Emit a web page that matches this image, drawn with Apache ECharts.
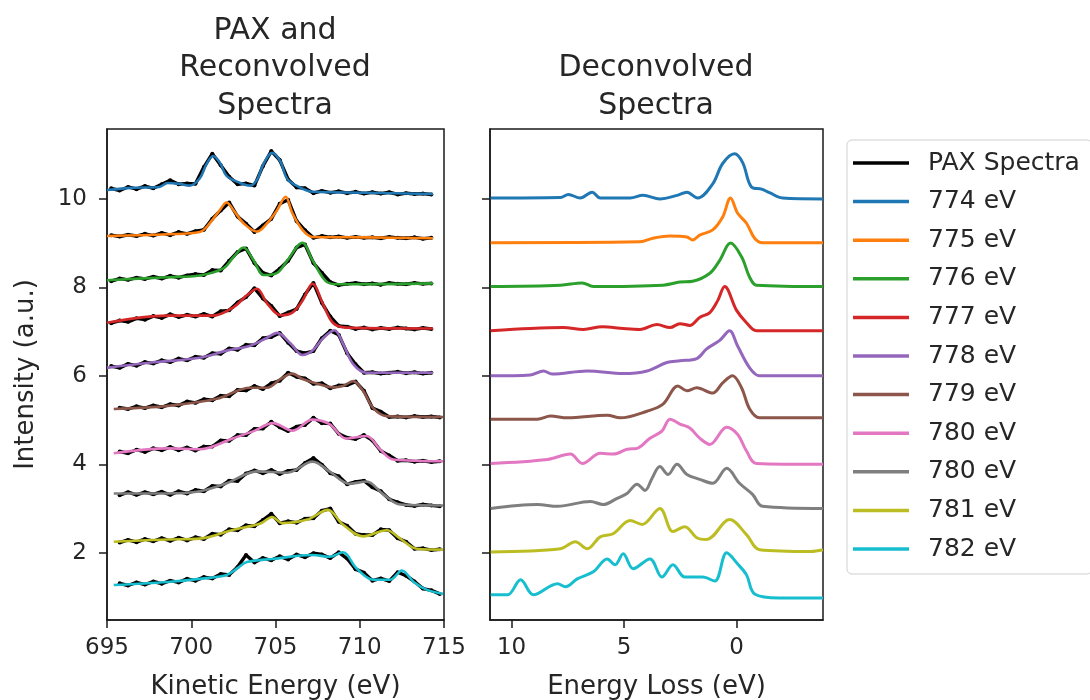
<!DOCTYPE html>
<html>
<head>
<meta charset="utf-8">
<title>PAX and Deconvolved Spectra</title>
<script src="https://cdn.jsdelivr.net/npm/echarts@6/dist/echarts.min.js"></script>
<style>
  html, body { margin: 0; padding: 0; background: #fff; }
  #chart { width: 1090px; height: 700px; }
</style>
</head>
<body>
<div id="chart"></div>
<script>
// ---- Data -----------------------------------------------------------------
const photonLabels = ['774 eV', '775 eV', '776 eV', '777 eV', '778 eV',
                      '779 eV', '780 eV', '780 eV', '781 eV', '782 eV'];
const paxLabel = 'PAX Spectra';

const kineticTicks = [695, 700, 705, 710, 715];
const lossTicks = [10, 5, 0];
const intensityTicks = [2, 4, 6, 8, 10];

// Measured PAX spectra (offset stacks), sampled on a common kinetic-energy grid
const paxEnergy = [695.25, 695.75, 696.25, 696.75, 697.25, 697.75, 698.25, 698.75, 699.25, 699.75,
                   700.25, 700.75, 701.25, 701.75, 702.25, 702.75, 703.25, 703.75, 704.25, 704.75,
                   705.25, 705.75, 706.25, 706.75, 707.25, 707.75, 708.25, 708.75, 709.25, 709.75,
                   710.25, 710.75, 711.25, 711.75, 712.25, 712.75, 713.25, 713.75, 714.25, 714.75];
const pax774 = [10.24, 10.19, 10.27, 10.22, 10.29, 10.24, 10.33, 10.42, 10.33, 10.35,
                10.34, 10.72, 11.02, 10.76, 10.50, 10.33, 10.35, 10.30, 10.74, 11.08,
                10.88, 10.44, 10.26, 10.24, 10.13, 10.18, 10.14, 10.17, 10.13, 10.16,
                10.12, 10.15, 10.12, 10.15, 10.10, 10.13, 10.11, 10.12, 10.10, null];
const pax775 = [9.18, 9.15, 9.19, 9.16, 9.21, 9.17, 9.23, 9.18, 9.25, 9.21,
                9.27, 9.30, 9.55, 9.74, 9.92, 9.60, 9.44, 9.25, 9.40, 9.55,
                9.89, 9.98, 9.50, 9.29, 9.12, 9.16, 9.13, 9.15, 9.12, 9.14,
                9.12, 9.13, 9.11, 9.14, 9.12, 9.11, 9.13, 9.10, 9.12, null];
const pax776 = [8.14, 8.20, 8.17, 8.22, 8.19, 8.24, 8.20, 8.26, 8.22, 8.27,
                8.30, 8.28, 8.39, 8.38, 8.60, 8.80, 8.88, 8.55, 8.33, 8.27,
                8.42, 8.60, 8.90, 8.97, 8.55, 8.33, 8.12, 8.05, 8.08, 8.10,
                8.07, 8.09, 8.06, 8.10, 8.08, 8.07, 8.10, 8.08, 8.09, null];
const pax777 = [7.19, 7.25, 7.22, 7.30, 7.27, 7.35, 7.31, 7.39, 7.33, 7.38,
                7.34, 7.40, 7.34, 7.46, 7.48, 7.66, 7.78, 7.98, 7.75, 7.58,
                7.35, 7.43, 7.51, 7.84, 8.10, 7.65, 7.34, 7.13, 7.11, 7.06,
                7.09, 7.05, 7.08, 7.06, 7.09, 7.07, 7.05, 7.08, 7.06, null];
const pax778 = [6.22, 6.18, 6.27, 6.23, 6.31, 6.28, 6.35, 6.31, 6.39, 6.35,
                6.43, 6.41, 6.51, 6.50, 6.62, 6.59, 6.70, 6.69, 6.85, 6.88,
                6.97, 6.75, 6.56, 6.51, 6.56, 6.85, 7.02, 6.93, 6.51, 6.26,
                6.07, 6.08, 6.05, 6.07, 6.09, 6.06, 6.08, 6.05, 6.07, null];
const pax779 = [null, 5.28, 5.25, 5.31, 5.27, 5.33, 5.29, 5.36, 5.33, 5.42,
                5.39, 5.47, 5.45, 5.55, 5.54, 5.68, 5.67, 5.77, 5.70, 5.83,
                5.89, 6.07, 5.98, 5.94, 5.82, 5.83, 5.72, 5.78, 5.79, 5.87,
                5.66, 5.27, 5.19, 5.07, 5.08, 5.06, 5.09, 5.07, 5.08, 5.06];
const pax780a = [null, 4.29, 4.25, 4.33, 4.28, 4.36, 4.32, 4.39, 4.32, 4.38,
                 4.31, 4.40, 4.40, 4.54, 4.53, 4.66, 4.66, 4.80, 4.81, 4.96,
                 4.84, 4.75, 4.85, 4.89, 5.05, 4.93, 4.92, 4.69, 4.60, 4.57,
                 4.66, 4.54, 4.30, 4.20, 4.08, 4.09, 4.06, 4.08, 4.05, 4.07];
const pax780b = [null, 3.30, 3.37, 3.31, 3.37, 3.32, 3.38, 3.31, 3.39, 3.34,
                 3.42, 3.39, 3.51, 3.50, 3.63, 3.62, 3.79, 3.86, 3.80, 3.87,
                 3.78, 3.85, 3.87, 4.03, 4.14, 3.99, 3.80, 3.73, 3.55, 3.60,
                 3.63, 3.48, 3.39, 3.21, 3.14, 3.08, 3.06, 3.09, 3.07, 3.05];
const pax781 = [null, 2.23, 2.29, 2.24, 2.31, 2.26, 2.33, 2.27, 2.34, 2.28,
                2.35, 2.31, 2.43, 2.41, 2.53, 2.51, 2.62, 2.60, 2.74, 2.88,
                2.67, 2.71, 2.68, 2.77, 2.78, 2.95, 3.00, 2.70, 2.61, 2.43,
                2.40, 2.40, 2.53, 2.51, 2.33, 2.25, 2.09, 2.10, 2.06, 2.08];
const pax782 = [null, 1.31, 1.26, 1.33, 1.28, 1.35, 1.30, 1.37, 1.33, 1.41,
                1.37, 1.45, 1.42, 1.52, 1.50, 1.68, 1.95, 1.78, 1.88, 1.83,
                1.92, 1.85, 1.96, 1.90, 1.99, 1.96, 1.88, 2.01, 1.87, 1.63,
                1.55, 1.37, 1.42, 1.36, 1.56, 1.48, 1.35, 1.19, 1.15, 1.07];

// Reconvolved spectra: [kinetic energy (eV), offset intensity]
const rec774 = [[695.0, 10.20], [696.5, 10.25], [698.1, 10.27], [698.6, 10.36], [699.3, 10.34], [699.9, 10.30],
                [700.5, 10.46], [700.9, 10.78], [701.3, 10.97], [701.7, 10.82], [702.1, 10.52], [702.9, 10.36],
                [703.5, 10.30], [703.9, 10.43], [704.3, 10.80], [704.8, 11.04], [705.3, 10.84], [705.7, 10.45],
                [706.5, 10.25], [707.2, 10.16], [710.4, 10.14], [714.35, 10.11]];
const rec775 = [[695.0, 9.16], [698.6, 9.20], [700.5, 9.25], [701.1, 9.45], [701.7, 9.75], [702.1, 9.92],
                [702.5, 9.75], [703.1, 9.45], [703.9, 9.26], [704.5, 9.45], [705.1, 9.75], [705.6, 10.05],
                [706.0, 9.68], [706.6, 9.30], [707.2, 9.14], [710.4, 9.13], [714.35, 9.11]];
const rec776 = [[695.0, 8.16], [698.6, 8.23], [700.5, 8.27], [701.9, 8.43], [702.5, 8.68], [703.1, 8.90],
                [703.7, 8.61], [704.3, 8.28], [705.1, 8.33], [705.7, 8.61], [706.6, 9.01], [707.2, 8.61],
                [708.1, 8.11], [708.8, 8.07], [714.35, 8.09]];
const rec777 = [[695.0, 7.20], [698.6, 7.36], [701.3, 7.36], [702.5, 7.55], [703.3, 7.82], [703.9, 7.97],
                [704.5, 7.64], [705.3, 7.37], [706.0, 7.43], [706.6, 7.70], [707.2, 8.08], [707.8, 7.64],
                [708.4, 7.20], [709.2, 7.09], [714.35, 7.07]];
const rec778 = [[695.0, 6.18], [697.6, 6.30], [700.5, 6.41], [702.1, 6.57], [703.5, 6.68], [704.5, 6.86],
                [705.1, 6.97], [705.9, 6.73], [706.6, 6.47], [707.2, 6.57], [707.8, 6.84], [708.5, 7.03],
                [709.0, 6.73], [709.6, 6.27], [710.4, 6.07], [714.35, 6.07]];
const rec779 = [[695.4, 5.25], [698.6, 5.32], [701.5, 5.48], [703.5, 5.73], [704.5, 5.73], [705.3, 5.93],
                [706.0, 6.05], [706.6, 5.93], [707.5, 5.82], [708.4, 5.74], [709.0, 5.77], [709.6, 5.88],
                [710.2, 5.66], [710.8, 5.27], [711.6, 5.09], [714.94, 5.07]];
const rec780a = [[695.4, 4.25], [698.6, 4.36], [700.5, 4.34], [702.5, 4.59], [703.7, 4.75], [704.85, 4.93],
                 [706.0, 4.76], [707.2, 5.01], [708.2, 4.91], [709.2, 4.58], [710.4, 4.64], [711.2, 4.34],
                 [712.0, 4.11], [714.94, 4.07]];
const rec780b = [[695.4, 3.34], [698.6, 3.34], [700.5, 3.39], [702.1, 3.57], [703.9, 3.84], [705.7, 3.81],
                 [707.2, 4.06], [708.2, 3.84], [709.4, 3.56], [710.4, 3.61], [711.4, 3.32], [712.4, 3.09],
                 [714.94, 3.07]];
const rec781 = [[695.4, 2.25], [698.6, 2.30], [700.5, 2.32], [702.5, 2.52], [704.1, 2.66], [704.8, 2.81],
                [705.4, 2.67], [706.9, 2.75], [708.1, 2.97], [709.0, 2.64], [710.2, 2.37], [711.6, 2.51],
                [712.4, 2.32], [713.4, 2.09], [714.94, 2.07]];
const rec782 = [[695.4, 1.27], [698.6, 1.34], [700.5, 1.41], [702.1, 1.50], [702.7, 1.64], [703.3, 1.79],
                [704.85, 1.86], [707.2, 1.95], [708.2, 1.91], [709.0, 2.01], [709.8, 1.65], [710.8, 1.39],
                [711.8, 1.39], [712.5, 1.60], [713.2, 1.34], [714.0, 1.16], [714.94, 1.07]];

// Deconvolved spectra: [energy loss (eV), offset intensity]
const dec774 = [[10.93, 10.02], [7.83, 10.03], [7.48, 10.10], [6.95, 10.02], [6.42, 10.15], [6.06, 10.02],
                [4.73, 10.02], [4.16, 10.08], [3.41, 10.00], [2.65, 10.08], [2.21, 10.15], [1.73, 10.02],
                [1.06, 10.34], [0.62, 10.80], [0.09, 11.02], [-0.27, 10.82], [-0.66, 10.27], [-1.11, 10.22],
                [-1.46, 10.14], [-2.04, 10.02], [-3.84, 10.00]];
const dec775 = [[10.93, 9.01], [4.29, 9.03], [3.72, 9.11], [2.96, 9.16], [2.21, 9.14], [1.95, 9.07],
                [1.64, 9.18], [1.06, 9.30], [0.62, 9.59], [0.27, 10.02], [-0.04, 9.68], [-0.44, 9.45],
                [-0.80, 9.11], [-1.15, 9.01], [-3.84, 9.01]];
const dec776 = [[10.93, 8.02], [7.83, 8.05], [6.86, 8.10], [6.37, 8.02], [3.27, 8.05], [2.52, 8.12],
                [1.95, 8.14], [1.19, 8.32], [0.75, 8.61], [0.27, 9.00], [-0.22, 8.69], [-0.58, 8.23],
                [-0.88, 8.05], [-3.84, 8.02]];
const dec777 = [[10.93, 7.02], [9.16, 7.07], [7.70, 7.09], [6.81, 7.05], [5.97, 7.11], [5.04, 7.07],
                [4.29, 7.05], [3.54, 7.16], [2.96, 7.09], [2.52, 7.18], [2.08, 7.14], [1.64, 7.32],
                [1.19, 7.43], [0.84, 7.70], [0.53, 8.02], [0.00, 7.48], [-0.44, 7.20], [-0.88, 7.02],
                [-3.84, 7.02]];
const dec778 = [[10.93, 6.00], [9.16, 6.02], [8.58, 6.11], [8.20, 6.04], [6.64, 6.11], [5.04, 6.05],
                [3.98, 6.11], [3.10, 6.30], [2.52, 6.34], [1.77, 6.39], [1.33, 6.61], [0.75, 6.80],
                [0.31, 7.02], [-0.04, 6.68], [-0.58, 6.18], [-1.02, 6.00], [-3.84, 6.00]];
const dec779 = [[10.93, 5.02], [8.85, 5.02], [8.27, 5.09], [7.52, 5.05], [5.75, 5.11], [5.18, 5.05],
                [3.98, 5.20], [3.27, 5.36], [2.61, 5.77], [2.21, 5.66], [1.77, 5.73], [1.06, 5.61],
                [0.62, 5.84], [0.18, 6.00], [-0.22, 5.73], [-0.58, 5.25], [-1.02, 5.05], [-3.84, 5.05]];
const dec780a = [[10.93, 4.02], [8.41, 4.11], [7.39, 4.23], [6.86, 4.02], [6.06, 4.25], [5.47, 4.23],
                 [4.87, 4.34], [4.42, 4.36], [3.85, 4.59], [3.32, 4.75], [2.96, 5.02], [2.52, 4.91],
                 [2.08, 4.82], [1.64, 4.59], [1.19, 4.45], [0.44, 4.84], [-0.04, 4.68], [-0.44, 4.30],
                 [-0.88, 4.02], [-3.84, 4.00]];
const dec780b = [[10.93, 3.00], [8.85, 3.09], [7.96, 3.05], [6.50, 3.16], [5.93, 3.09], [5.31, 3.23],
                 [4.87, 3.34], [4.42, 3.55], [4.07, 3.41], [3.76, 3.68], [3.41, 3.95], [3.05, 3.77],
                 [2.65, 4.00], [2.21, 3.77], [1.64, 3.66], [1.06, 3.57], [0.44, 3.91], [-0.13, 3.57],
                 [-0.71, 3.32], [-1.15, 3.05], [-3.84, 3.00]];
const dec781 = [[10.93, 2.02], [7.83, 2.09], [7.17, 2.25], [6.64, 2.09], [6.06, 2.36], [5.49, 2.43],
                [4.73, 2.73], [4.20, 2.64], [3.41, 3.00], [2.83, 2.48], [2.30, 2.59], [1.77, 2.34],
                [1.33, 2.30], [0.31, 2.75], [-0.44, 2.41], [-1.02, 2.07], [-3.30, 2.03], [-3.84, 2.07]];
const dec782 = [[10.93, 1.05], [10.18, 1.05], [9.60, 1.39], [9.03, 1.05], [7.96, 1.30], [7.61, 1.23],
                [7.08, 1.41], [6.37, 1.57], [5.75, 1.86], [5.40, 1.73], [5.04, 1.98], [4.60, 1.64],
                [3.85, 1.86], [3.32, 1.45], [2.83, 1.73], [2.30, 1.45], [1.50, 1.45], [0.97, 1.36],
                [0.44, 2.00], [-0.04, 1.75], [-0.44, 1.50], [-0.80, 1.07], [-1.90, 0.98], [-3.84, 0.98]];

const paxSpectra = [pax774, pax775, pax776, pax777, pax778, pax779, pax780a, pax780b, pax781, pax782];
const reconvolved = [rec774, rec775, rec776, rec777, rec778, rec779, rec780a, rec780b, rec781, rec782];
const deconvolved = [dec774, dec775, dec776, dec777, dec778, dec779, dec780a, dec780b, dec781, dec782];

// ---- Styling --------------------------------------------------------------
const palette = ['#1f77b4', '#ff7f0e', '#2ca02c', '#d62728', '#9467bd',
                 '#8c564b', '#e377c2', '#7f7f7f', '#bcbd22', '#17becf'];
const FONT = 'DejaVu Sans';
const TEXT = '#262626';
const AXIS = '#1a1a1a';

const chart = echarts.init(document.getElementById('chart'), null, { renderer: 'canvas' });

const series = [];
// Measured spectra drawn first so that the fits sit on top of them
paxSpectra.forEach(vals => {
  series.push({
    name: 'pax', type: 'line', xAxisIndex: 0, yAxisIndex: 0,
    data: paxEnergy.map((x, j) => [x, vals[j]]).filter(p => p[1] !== null),
    showSymbol: true, symbol: 'circle', symbolSize: 4,
    itemStyle: { color: '#000' },
    lineStyle: { color: '#000', width: 3.4 },
    color: '#000', silent: true, z: 2
  });
});
reconvolved.forEach((pts, i) => {
  series.push({
    name: 's' + i, type: 'line', xAxisIndex: 0, yAxisIndex: 0,
    data: pts, showSymbol: false, smooth: 0.35,
    lineStyle: { color: palette[i], width: 2.6 },
    itemStyle: { color: palette[i] }, color: palette[i], silent: true, z: 3
  });
});
deconvolved.forEach((pts, i) => {
  series.push({
    name: 's' + i, type: 'line', xAxisIndex: 1, yAxisIndex: 1,
    data: pts, showSymbol: false, smooth: 0.35,
    lineStyle: { color: palette[i], width: 3 },
    itemStyle: { color: palette[i] }, color: palette[i], silent: true, z: 3
  });
});

const tickStyle = { show: true, length: 8, inside: false, lineStyle: { color: AXIS, width: 1.5 } };
const labelStyle = { color: TEXT, fontSize: 23, fontFamily: FONT };
const nameStyle = { color: TEXT, fontSize: 26, fontFamily: FONT };

const option = {
  animation: false,
  backgroundColor: '#fff',
  grid: [
    { left: 107, top: 129, width: 337, height: 491, show: true, borderColor: AXIS, borderWidth: 1.5,
      containLabel: false, outerBoundsMode: 'none' },
    { left: 490, top: 129, width: 333, height: 491, show: true, borderColor: AXIS, borderWidth: 1.5,
      containLabel: false, outerBoundsMode: 'none' }
  ],
  xAxis: [
    {
      gridIndex: 0, type: 'value', min: 695, max: 715, interval: 5,
      axisLine: { show: true, onZero: false, lineStyle: { color: AXIS, width: 1.5 } },
      axisTick: Object.assign({}, tickStyle, { customValues: kineticTicks }),
      axisLabel: Object.assign({}, labelStyle, { margin: 17, customValues: kineticTicks }),
      splitLine: { show: false },
      name: 'Kinetic Energy (eV)', nameLocation: 'middle', nameGap: 54, nameTextStyle: nameStyle
    },
    {
      gridIndex: 1, type: 'value', min: -3.84, max: 10.96, inverse: true,
      axisLine: { show: true, onZero: false, lineStyle: { color: AXIS, width: 1.5 } },
      axisTick: Object.assign({}, tickStyle, { customValues: lossTicks }),
      axisLabel: Object.assign({}, labelStyle, { margin: 17, customValues: lossTicks }),
      splitLine: { show: false },
      name: 'Energy Loss (eV)', nameLocation: 'middle', nameGap: 54, nameTextStyle: nameStyle
    }
  ],
  yAxis: [
    {
      gridIndex: 0, type: 'value', min: 0.48, max: 11.58,
      axisLine: { show: true, onZero: false, lineStyle: { color: AXIS, width: 1.5 } },
      axisTick: Object.assign({}, tickStyle, { customValues: intensityTicks }),
      axisLabel: Object.assign({}, labelStyle, { margin: 20, customValues: intensityTicks }),
      splitLine: { show: false },
      name: 'Intensity (a.u.)', nameLocation: 'middle', nameGap: 68, nameRotate: 90, nameTextStyle: nameStyle
    },
    {
      gridIndex: 1, type: 'value', min: 0.48, max: 11.58,
      axisLine: { show: true, onZero: false, lineStyle: { color: AXIS, width: 1.5 } },
      axisTick: Object.assign({}, tickStyle, { customValues: intensityTicks }),
      axisLabel: { show: false },
      splitLine: { show: false }
    }
  ],
  legend: {
    orient: 'vertical', left: 847, top: 140,
    padding: [10, 12, 12, 6],
    itemWidth: 56, itemHeight: 3.5, itemGap: 12.6,
    icon: 'rect', selectedMode: false,
    backgroundColor: '#fff', borderColor: '#cfcfcf', borderWidth: 1, borderRadius: 5,
    data: ['pax'].concat(photonLabels.map((_, i) => 's' + i)),
    formatter: name => name === 'pax' ? paxLabel : photonLabels[+name.slice(1)],
    textStyle: { color: TEXT, fontSize: 25, fontFamily: FONT, lineHeight: 26, padding: [0, 0, 0, 14] }
  },
  graphic: [
    {
      type: 'text', x: 275, y: 12, silent: true,
      style: { text: 'PAX and\nReconvolved\nSpectra', textAlign: 'center', textVerticalAlign: 'top',
               font: '30px "DejaVu Sans"', lineHeight: 37.5, fill: TEXT }
    },
    {
      type: 'text', x: 656, y: 49.5, silent: true,
      style: { text: 'Deconvolved\nSpectra', textAlign: 'center', textVerticalAlign: 'top',
               font: '30px "DejaVu Sans"', lineHeight: 37.5, fill: TEXT }
    }
  ],
  series: series
};

chart.setOption(option);
</script>
</body>
</html>
